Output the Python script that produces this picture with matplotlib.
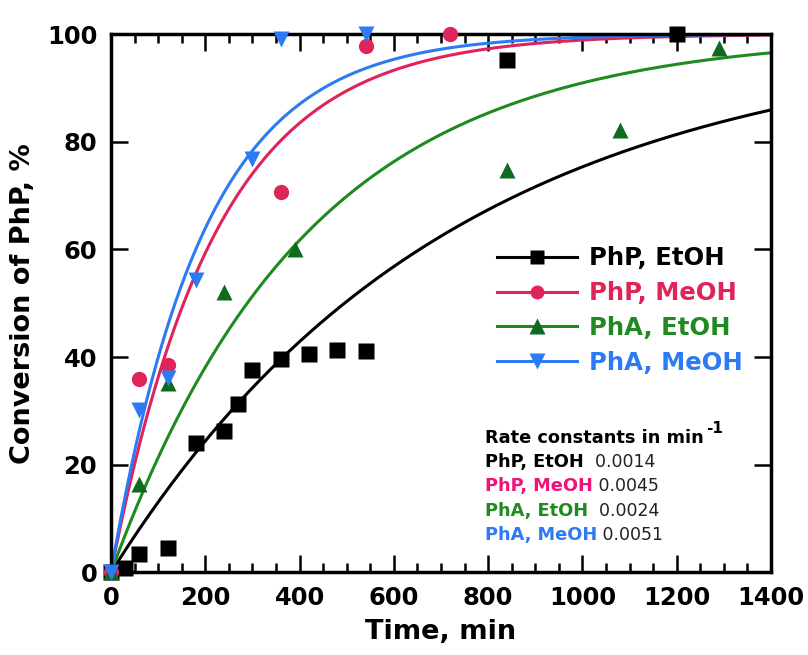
import numpy as np
import matplotlib
matplotlib.use("Agg")
import matplotlib.pyplot as plt
from matplotlib.ticker import MultipleLocator

# measured conversions (time in min, conversion in %)
php_etoh_t = [0, 30, 60, 120, 180, 240, 270, 300, 360, 420, 480, 540, 840, 1200]
php_etoh_y = [0, 0.9, 3.5, 4.5, 24.0, 26.2, 31.3, 37.6, 39.6, 40.6, 41.4, 41.1, 95.2, 100]

php_meoh_t = [0, 60, 120, 360, 540, 720]
php_meoh_y = [0, 35.9, 38.5, 70.7, 97.7, 100]

pha_etoh_t = [0, 60, 120, 240, 390, 840, 1080, 1290]
pha_etoh_y = [0, 16.4, 35.2, 52.0, 60.1, 74.8, 82.2, 97.4]

pha_meoh_t = [0, 60, 120, 180, 300, 360, 540]
pha_meoh_y = [0, 30.2, 36.1, 54.3, 76.8, 99.0, 100]

labels = ["PhP, EtOH", "PhP, MeOH", "PhA, EtOH", "PhA, MeOH"]
rate_k = [0.0014, 0.0045, 0.0024, 0.0051]  # first-order rate constants, 1/min
rate_txt = ["  0.0014", " 0.0045", "  0.0024", " 0.0051"]

series = [(php_etoh_t, php_etoh_y), (php_meoh_t, php_meoh_y),
          (pha_etoh_t, pha_etoh_y), (pha_meoh_t, pha_meoh_y)]
line_colors = ["black", "#DE2458", "#1F8A1F", "#2D7BF4"]
mark_colors = ["black", "#DE2458", "#0E6A1E", "#2D7BF4"]
text_colors = ["black", "#DE2458", "#1F8A1F", "#2D7BF4"]
note_colors = ["black", "#EE1279", "#1F8A1F", "#2D7BF4"]
markers = ["s", "o", "^", "v"]
msizes = [11, 11, 12, 12]

plt.rcParams["font.family"] = ["DejaVu Sans"]
plt.rcParams["font.weight"] = "bold"

fig = plt.figure(figsize=(8.08, 6.55), dpi=100)
ax = fig.add_axes([0.1374, 0.126, 0.8168, 0.822])

t_fit = np.linspace(0, 1400, 400)
handles = []
for (t, y), k, lc, mc, m, ms in zip(series, rate_k, line_colors, mark_colors, markers, msizes):
    ax.plot(t_fit, 100 * (1 - np.exp(-k * t_fit)), color=lc, lw=2.2, zorder=2)
    ax.plot(t, y, ls="none", marker=m, ms=ms, color=mc, mec="none",
            clip_on=False, zorder=3)
    h, = ax.plot([], [], color=lc, lw=2.2, marker=m, ms=ms - 1, mfc=mc, mec="none")
    handles.append(h)

ax.set_xlim(0, 1400)
ax.set_ylim(0, 100)
ax.xaxis.set_major_locator(MultipleLocator(200))
ax.xaxis.set_minor_locator(MultipleLocator(50))
ax.yaxis.set_major_locator(MultipleLocator(20))
ax.tick_params(which="both", direction="in", top=True, right=True, width=1.8)
ax.tick_params(which="major", length=12, labelsize=17.5, pad=10)
ax.tick_params(which="minor", length=6.5)
for s in ax.spines.values():
    s.set_linewidth(2.5)

ax.set_xlabel("Time, min", fontsize=19.5, fontweight="bold", labelpad=6)
ax.set_ylabel("Conversion of PhP, %", fontsize=19.5, fontweight="bold", labelpad=8)

leg = ax.legend(handles, labels, loc="center left", bbox_to_anchor=(0.585, 0.4865),
                frameon=False, fontsize=17.5, handlelength=3.3, handletextpad=0.5,
                labelspacing=0.45, borderpad=0, borderaxespad=0, numpoints=1)
for txt, c in zip(leg.get_texts(), text_colors):
    txt.set_color(c)
    txt.set_fontweight("bold")

head = ax.text(0.5667, 0.2405, "Rate constants in min", transform=ax.transAxes,
               fontsize=12.75, fontweight="bold", ha="left", va="baseline")
ax.annotate("-1", xy=(1, 0), xycoords=head, xytext=(2, 8), textcoords="offset points",
            fontsize=11, fontweight="bold", ha="left", va="bottom")
for i, (lab, val, c) in enumerate(zip(labels, rate_txt, note_colors)):
    yy = 0.196 - i * 0.0455
    tx = ax.text(0.5667, yy, lab, transform=ax.transAxes, fontsize=12.75,
                 fontweight="bold", color=c, ha="left", va="baseline")
    ax.annotate(val, xy=(1, 0), xycoords=tx, fontsize=12.5,
                fontweight="normal", color="#222222", ha="left", va="bottom")

fig.savefig("out.png", dpi=100)
